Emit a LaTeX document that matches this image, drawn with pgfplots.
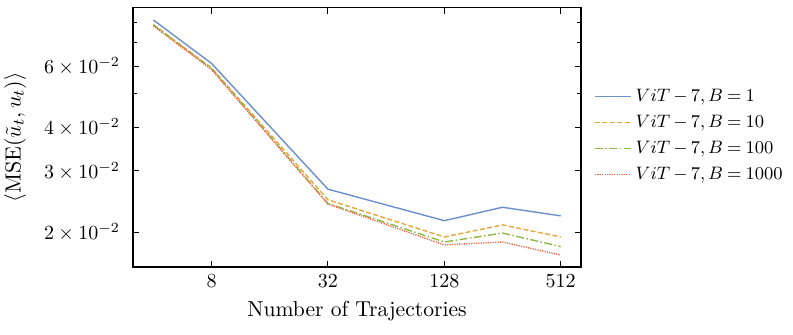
\documentclass[border=0pt]{standalone}
\usepackage{pgfplots}
\pgfplotsset{compat=1.18}

\definecolor{cblue}{HTML}{6D8FCB}
\definecolor{corange}{HTML}{E9A63A}
\definecolor{cgreen}{HTML}{8FB947}
\definecolor{cred}{HTML}{F2664A}

\begin{document}
\begin{tikzpicture}
% fix the page size to the reference proportions
\path[use as bounding box] (-66.5pt,-33.5pt) rectangle (330pt,133.5pt);
\begin{axis}[
    at={(0,0)}, anchor=south west,
    scale only axis,
    width=224pt, height=129.75pt,
    xmode=log, ymode=log,
    log basis x=2,
    xmin=3.14, xmax=652,
    ymin=0.0159, ymax=0.0884,
    xtick={8,32,128,512},
    xticklabels={8,32,128,512},
    minor xtick={},
    ytick={0.02,0.03,0.04,0.06},
    yticklabels={$2\times10^{-2}$,$3\times10^{-2}$,$4\times10^{-2}$,$6\times10^{-2}$},
    yticklabel style={xshift=-3pt},
    minor ytick={0.05,0.07,0.08},
    tick pos=both,
    tick align=inside,
    major tick length=3pt,
    minor tick length=2pt,
    every tick/.style={black, line width=0.5pt},
    axis line style={line width=0.7pt},
    xlabel={Number of Trajectories},
    xlabel style={font=\fontsize{10.8}{13}\selectfont},
    ylabel={$\big\langle \mathrm{MSE}(\tilde{u}_t, u_t)\big\rangle$},
    ylabel style={font=\fontsize{10.8}{13}\selectfont,
        at={(axis description cs:-0.223,0.5)}, anchor=south},
    legend style={draw=none, fill=none, at={(1.015,0.507)}, anchor=west,
        row sep=0pt,
        nodes={text height=7pt, text depth=2pt, inner ysep=2pt},
        font={\fontsize{8.8}{10.5}\selectfont\medmuskip=3mu\thickmuskip=4mu}},
    legend cell align=left,
    legend image code/.code={\draw[#1, line width=0.8pt] (0pt,0pt) -- (13.5pt,0pt);
        \path (0pt,0pt) -- (18pt,0pt);},
]
\addplot[cblue, line width=0.7pt] coordinates {
    (4,0.0814) (8,0.0611) (32,0.0266) (128,0.0216) (256,0.0236) (512,0.0223)
};
\addlegendentry{$ViT-7, B=1$}
\addplot[corange, line width=0.7pt, dash pattern=on 2.5pt off 1.2pt] coordinates {
    (4,0.0790) (8,0.0593) (32,0.0248) (128,0.0194) (256,0.0210) (512,0.0194)
};
\addlegendentry{$ViT-7, B=10$}
\addplot[cgreen, line width=0.7pt, dash pattern=on 4pt off 1.2pt on 0.8pt off 1.2pt] coordinates {
    (4,0.0787) (8,0.0590) (32,0.0242) (128,0.01876) (256,0.0199) (512,0.0182)
};
\addlegendentry{$ViT-7, B=100$}
\addplot[cred, line width=0.7pt, dash pattern=on 0.6pt off 0.6pt] coordinates {
    (4,0.0783) (8,0.0586) (32,0.0241) (128,0.0184) (256,0.01876) (512,0.0172)
};
\addlegendentry{$ViT-7, B=1000$}
\end{axis}
\end{tikzpicture}
\end{document}
